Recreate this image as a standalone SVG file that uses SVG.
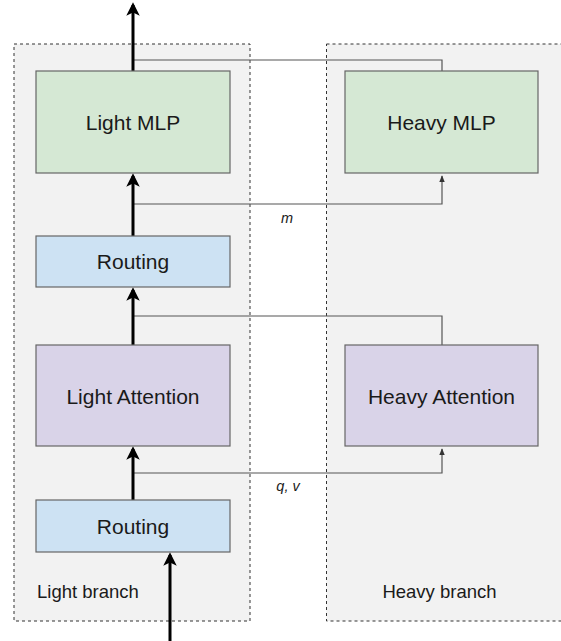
<svg xmlns="http://www.w3.org/2000/svg" width="561" height="641" viewBox="0 0 561 641">
<style>
.cont{fill:#f2f2f2;stroke:#333;stroke-width:1;stroke-dasharray:3,3}
.box{stroke:#666;stroke-width:1.2}
.green{fill:#d5e8d4}
.blue{fill:#cde2f3}
.purple{fill:#d9d3e8}
.lbl{font-family:"Liberation Sans",Arial,sans-serif;font-size:21px;fill:#1a1a1a;text-anchor:middle;dominant-baseline:central}
.small{font-family:"Liberation Sans",Arial,sans-serif;font-size:14.5px;font-style:italic;fill:#1a1a1a;text-anchor:middle;dominant-baseline:central}
.br{font-family:"Liberation Sans",Arial,sans-serif;font-size:18.5px;fill:#1a1a1a}
.thick{stroke:#000;stroke-width:3;fill:none}
.thin{stroke:#555;stroke-width:1.2;fill:none}
</style>
<defs>
<marker id="big" viewBox="0 0 10 10" refX="8" refY="5" markerWidth="4.5" markerHeight="4.5" orient="auto" markerUnits="strokeWidth">
<path d="M0,0 L10,5 L0,10 L2.5,5 Z" fill="#000"/>
</marker>
<marker id="sm" viewBox="0 0 10 10" refX="9" refY="5" markerWidth="6" markerHeight="6" orient="auto" markerUnits="strokeWidth">
<path d="M0,1 L10,5 L0,9 Z" fill="#333"/>
</marker>
</defs>
<rect width="561" height="641" fill="#fff"/>
<g id="light-branch">
<rect class="cont" x="14" y="44" width="236" height="577"/>
<text class="br" x="37" y="598">Light branch</text>
</g>
<g id="heavy-branch">
<rect class="cont" x="326.5" y="44" width="240" height="577"/>
<text class="br" x="439.5" y="598" text-anchor="middle">Heavy branch</text>
</g>
<g id="connectors">
<path class="thin" d="M133,60 H442 V71"/>
<path class="thin" d="M133,204 H442 V176" marker-end="url(#sm)"/>
<path class="thin" d="M133,316 H442 V345"/>
<path class="thin" d="M133,473 H442 V449" marker-end="url(#sm)"/>
<path class="thick" d="M133,71 V5" marker-end="url(#big)"/>
<path class="thick" d="M133,236 V176" marker-end="url(#big)"/>
<path class="thick" d="M133,345 V290" marker-end="url(#big)"/>
<path class="thick" d="M133,500 V449" marker-end="url(#big)"/>
<path class="thick" d="M170,641 V555" marker-end="url(#big)"/>
<text class="small" x="287" y="218">m</text>
<text class="small" x="288" y="486">q, v</text>
</g>
<g id="light-mlp">
<rect class="box green" x="36" y="71" width="194" height="102"/>
<text class="lbl" x="133" y="122">Light MLP</text>
</g>
<g id="heavy-mlp">
<rect class="box green" x="345" y="71" width="193" height="102"/>
<text class="lbl" x="441.5" y="122">Heavy MLP</text>
</g>
<g id="routing-top">
<rect class="box blue" x="36" y="236" width="194" height="51"/>
<text class="lbl" x="133" y="261.5">Routing</text>
</g>
<g id="light-attention">
<rect class="box purple" x="36" y="345" width="194" height="101"/>
<text class="lbl" x="133" y="396">Light Attention</text>
</g>
<g id="heavy-attention">
<rect class="box purple" x="345" y="345" width="193" height="101"/>
<text class="lbl" x="441.5" y="396">Heavy Attention</text>
</g>
<g id="routing-bottom">
<rect class="box blue" x="36" y="500" width="194" height="52"/>
<text class="lbl" x="133" y="526">Routing</text>
</g>
</svg>
